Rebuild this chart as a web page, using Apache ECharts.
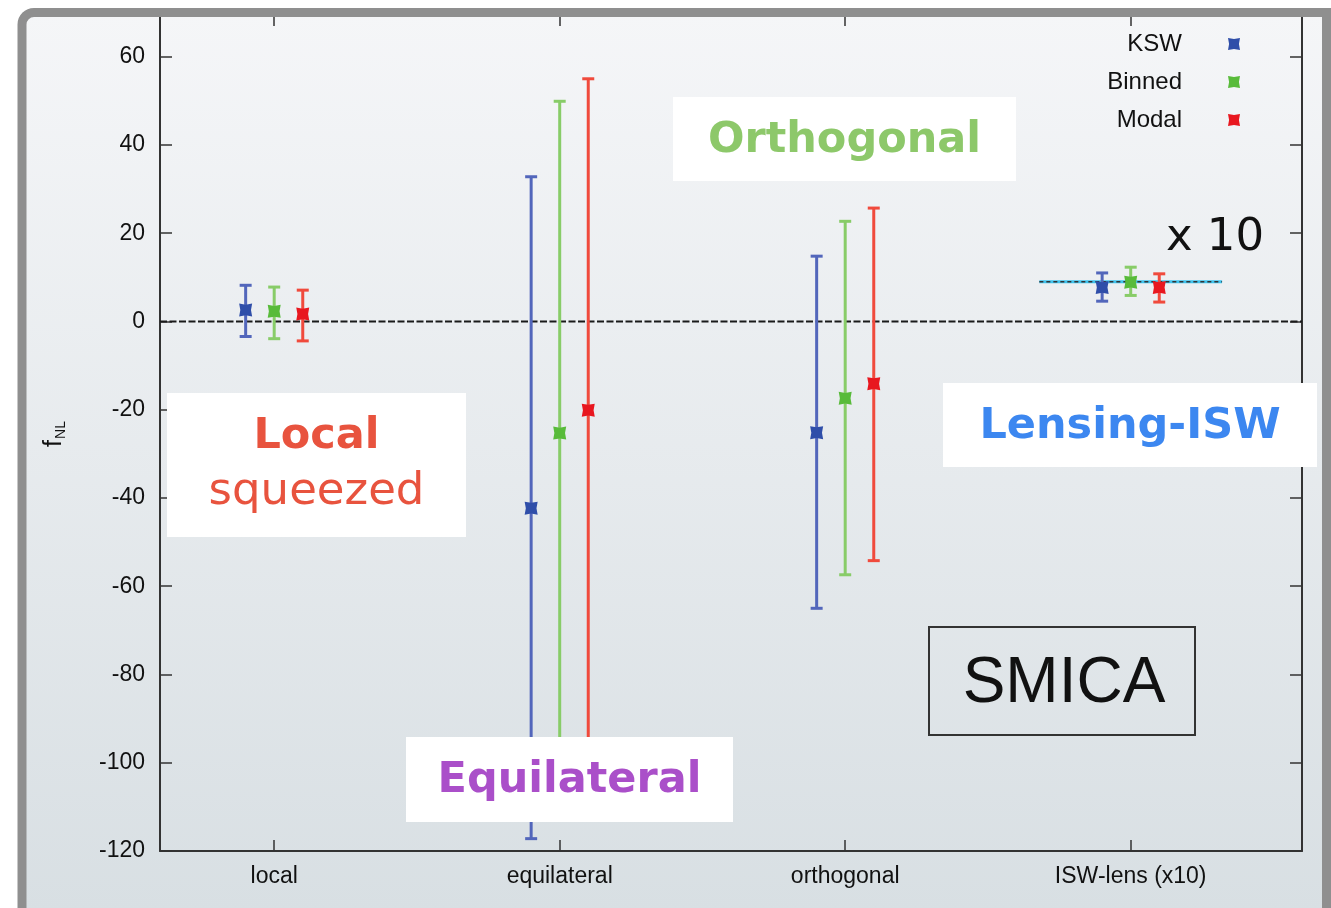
<!DOCTYPE html>
<html>
<head>
<meta charset="utf-8">
<script src="https://cdn.jsdelivr.net/npm/echarts@6/dist/echarts.min.js"></script>
<style>
  html, body { margin: 0; padding: 0; background: #fff; }
  #chart { width: 1331px; height: 908px; }
</style>
</head>
<body>
<div id="chart"></div>
<script>
// Shapes on the x axis and where they sit
const categories = ['local', 'equilateral', 'orthogonal', 'ISW-lens (x10)'];
const catPositions = [1, 2, 3, 4];
const yTicks = [-120, -100, -80, -60, -40, -20, 0, 20, 40, 60];

// Estimators and their horizontal offset within each shape
const methods = ['KSW', 'Binned', 'Modal'];
const methodOffsets = [-0.1, 0, 0.1];

// fNL central values and error bar limits, per shape
const kswCentral = [2.6, -42.3, -25.2, 7.7];
const kswLow = [-3.4, -117.2, -65.0, 4.6];
const kswHigh = [8.2, 32.8, 14.8, 11.0];

const binnedCentral = [2.3, -25.3, -17.4, 8.9];
const binnedLow = [-3.9, -98.0, -57.4, 5.9];
const binnedHigh = [7.8, 49.9, 22.7, 12.3];

const modalCentral = [1.7, -20.1, -14.1, 7.7];
const modalLow = [-4.4, -97.0, -54.2, 4.4];
const modalHigh = [7.1, 55.0, 25.7, 10.8];

// Expected ISW-lensing level (x10) and its horizontal span
const iswExpected = 9;
const iswExpectedSpan = [3.68, 4.32];

const markerColors = ['#2f4ea9', '#58bb3a', '#e8171f'];
const barColors = ['#5266bb', '#88cc68', '#f04a3c'];
const centrals = [kswCentral, binnedCentral, modalCentral];
const lows = [kswLow, binnedLow, modalLow];
const highs = [kswHigh, binnedHigh, modalHigh];

const markerPath = 'path://M0,0L5,0.9L10,0L9.1,5L10,10L5,9.1L0,10L0.9,5Z';
const axisColor = '#333';
const labelFont = 'Liberation Sans';
const labelColor = '#111';

function errorBarRenderer(color) {
  return function (params, api) {
    const x = api.value(0);
    const lo = api.coord([x, api.value(1)]);
    const hi = api.coord([x, api.value(2)]);
    const hw = 6;
    const style = { stroke: color, lineWidth: 3 };
    return {
      type: 'group',
      children: [
        { type: 'line', shape: { x1: lo[0], y1: lo[1], x2: hi[0], y2: hi[1] }, style: style },
        { type: 'line', shape: { x1: lo[0] - hw, y1: lo[1], x2: lo[0] + hw, y2: lo[1] }, style: style },
        { type: 'line', shape: { x1: hi[0] - hw, y1: hi[1], x2: hi[0] + hw, y2: hi[1] }, style: style }
      ]
    };
  };
}

const series = [];

// zero reference line
series.push({
  type: 'line',
  name: 'zero',
  data: [[0.6, 0], [4.6, 0]],
  symbol: 'none',
  silent: true,
  z: 1,
  lineStyle: { color: '#1a1a1a', width: 1.8, type: [7, 2.5] }
});

// expected ISW-lensing level
series.push({
  type: 'line',
  name: 'expected',
  data: [[iswExpectedSpan[0], iswExpected], [iswExpectedSpan[1], iswExpected]],
  symbol: 'none',
  silent: true,
  z: 1,
  lineStyle: { color: '#3ec3ee', width: 3 }
});
series.push({
  type: 'line',
  name: 'expected-dash',
  data: [[iswExpectedSpan[0], iswExpected], [iswExpectedSpan[1], iswExpected]],
  symbol: 'none',
  silent: true,
  z: 1,
  lineStyle: { color: '#333', width: 1.4, type: [4, 3] }
});

methods.forEach(function (m, k) {
  series.push({
    type: 'custom',
    name: m + ' error',
    renderItem: errorBarRenderer(barColors[k]),
    encode: { x: 0, y: [1, 2] },
    data: catPositions.map(function (c, i) { return [c + methodOffsets[k], lows[k][i], highs[k][i]]; }),
    z: 3,
    silent: true
  });
});

methods.forEach(function (m, k) {
  series.push({
    type: 'scatter',
    name: m,
    symbol: markerPath,
    symbolSize: 13,
    itemStyle: { color: markerColors[k], opacity: 1 },
    data: catPositions.map(function (c, i) { return [c + methodOffsets[k], centrals[k][i]]; }),
    z: 4
  });
});

// white annotation box with centred text lines
function labelBox(x, y, w, h, lines) {
  const els = [{
    type: 'rect', z: 100, silent: true,
    shape: { x: x, y: y, width: w, height: h },
    style: { fill: '#ffffff' }
  }];
  lines.forEach(function (ln) {
    els.push({
      type: 'text', z: 101, silent: true,
      x: x + w / 2,
      y: ln.y,
      style: {
        text: ln.text,
        fill: ln.color,
        font: (ln.bold ? 'bold ' : '') + ln.size + 'px "DejaVu Sans"',
        align: 'center',
        verticalAlign: 'middle'
      }
    });
  });
  return els;
}

const graphics = [].concat(
  [{
    type: 'rect', z: -10, silent: true,
    shape: { x: 22, y: 12, width: 1305, height: 900 },
    style: {
      fill: new echarts.graphic.LinearGradient(0, 0, 0, 1, [
        { offset: 0, color: '#f5f6f8' },
        { offset: 1, color: '#d8dfe3' }
      ])
    }
  }],
  labelBox(673, 97, 343, 84, [{ text: 'Orthogonal', y: 141, color: '#8dc86a', size: 43, bold: true }]),
  labelBox(167, 393, 299, 144, [
    { text: 'Local', y: 437, color: '#e8533e', size: 43, bold: true },
    { text: 'squeezed', y: 492, color: '#e8533e', size: 45, bold: false }
  ]),
  labelBox(943, 383, 374, 84, [{ text: 'Lensing-ISW', y: 427, color: '#3c87f0', size: 43, bold: true }]),
  labelBox(406, 737, 327, 85, [{ text: 'Equilateral', y: 781, color: '#aa4fc9', size: 43, bold: true }]),
  [
    { type: 'rect', z: 100, silent: true, shape: { x: 929, y: 627, width: 266, height: 108 }, style: { fill: 'none', stroke: '#333', lineWidth: 2 } },
    { type: 'text', z: 101, silent: true, x: 1064, y: 684, style: { text: 'SMICA', font: '64px "Liberation Sans"', fill: '#111', align: 'center', verticalAlign: 'middle' } },
    { type: 'text', z: 101, silent: true, x: 1215, y: 238, style: { text: 'x 10', font: '45px "DejaVu Sans"', fill: '#111', align: 'center', verticalAlign: 'middle' } },
    {
      type: 'rect', z: 200, silent: true,
      shape: { x: 22, y: 12.5, width: 1304.5, height: 930, r: [12, 0, 0, 0] },
      style: { fill: 'none', stroke: '#8f8f8f', lineWidth: 9 }
    }
  ]
);

const option = {
  animation: false,
  backgroundColor: '#ffffff',
  grid: { left: 160, right: 29, top: 17, bottom: 57 },
  xAxis: [{
    type: 'value', min: 0.6, max: 4.6, position: 'bottom',
    axisLine: { onZero: false, lineStyle: { color: axisColor, width: 2 } },
    axisTick: { inside: true, length: 11, customValues: catPositions, lineStyle: { color: axisColor, width: 1.5 } },
    axisLabel: {
      customValues: catPositions,
      formatter: function (v) { return categories[catPositions.indexOf(Math.round(v))]; },
      margin: 14, fontSize: 23, fontFamily: labelFont, color: labelColor
    },
    splitLine: { show: false }
  }, {
    type: 'value', min: 0.6, max: 4.6, position: 'top',
    axisLine: { show: false, onZero: false },
    axisTick: { show: true, inside: true, length: 9, customValues: catPositions, lineStyle: { color: axisColor, width: 1.5 } },
    axisLabel: { show: false },
    splitLine: { show: false }
  }],
  yAxis: [{
    type: 'value', min: -120, max: 69, position: 'left',
    axisLine: { show: true, onZero: false, lineStyle: { color: axisColor, width: 2 } },
    axisTick: { show: true, inside: true, length: 12, customValues: yTicks, lineStyle: { color: axisColor, width: 1.5 } },
    axisLabel: { customValues: yTicks, margin: 15, fontSize: 23, fontFamily: labelFont, color: labelColor },
    splitLine: { show: false },
    name: '{f|f}{s|NL}',
    nameLocation: 'middle',
    nameRotate: 90,
    nameGap: 92,
    nameTextStyle: {
      rich: {
        f: { fontSize: 25, fontFamily: labelFont, color: labelColor, lineHeight: 28 },
        s: { fontSize: 14, fontFamily: labelFont, color: labelColor, lineHeight: 28, verticalAlign: 'bottom', padding: [0, 0, 0, 1] }
      }
    }
  }, {
    type: 'value', min: -120, max: 69, position: 'right',
    axisLine: { show: true, onZero: false, lineStyle: { color: axisColor, width: 2 } },
    axisTick: { show: true, inside: true, length: 12, customValues: yTicks, lineStyle: { color: axisColor, width: 1.5 } },
    axisLabel: { show: false },
    splitLine: { show: false }
  }],
  legend: {
    data: methods,
    orient: 'vertical',
    align: 'right',
    right: 91,
    top: 31,
    padding: 0,
    itemWidth: 12,
    itemHeight: 12,
    itemGap: 12,
    selectedMode: false,
    textStyle: { fontSize: 24, fontFamily: labelFont, color: labelColor, lineHeight: 26, padding: [0, 41, 0, 0] }
  },
  series: series,
  graphic: graphics
};

const chart = echarts.init(document.getElementById('chart'), null, { renderer: 'canvas' });
chart.setOption(option);
</script>
</body>
</html>
